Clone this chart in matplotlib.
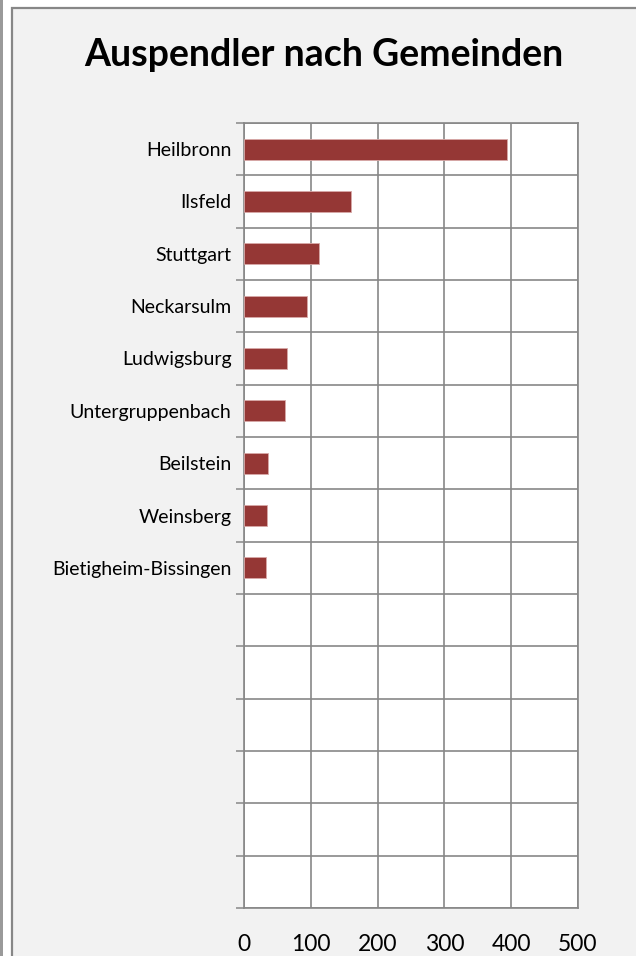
import numpy as np
import matplotlib
matplotlib.use("Agg")
import matplotlib.pyplot as plt
from matplotlib.patches import Rectangle

# data
gemeinden = ["Heilbronn", "Ilsfeld", "Stuttgart", "Neckarsulm", "Ludwigsburg",
             "Untergruppenbach", "Beilstein", "Weinsberg", "Bietigheim-Bissingen"]
auspendler = [393, 160, 113, 94, 65, 62, 36, 35, 33]
x_ticks = [0, 100, 200, 300, 400, 500]
title = "Auspendler nach Gemeinden"
n_slots = 15  # axis has room for 15 categories, only 9 used

plt.rcParams["font.family"] = ["Lato", "DejaVu Sans"]

W, H = 636, 956
fig = plt.figure(figsize=(W / 100, H / 100), dpi=100, facecolor="white")

grey = "#878787"

# outer decorations: left stripe and chart area box (behind the axes)
fig.patches.append(Rectangle((0, 0), 2.5 / W, 1, transform=fig.transFigure,
                             facecolor="#9a9a9a", edgecolor="none", zorder=-10))
fig.patches.append(Rectangle((12 / W, -0.05), 1.0, 1 - 8 / H + 0.05,
                             transform=fig.transFigure, facecolor="#f2f2f2",
                             edgecolor=grey, linewidth=1.6, zorder=-10))

ax = fig.add_axes([244 / W, 1 - 908 / H, (578 - 244) / W, (908 - 123) / H])
ax.set_facecolor("white")

ypos = np.arange(len(gemeinden))
ax.barh(ypos, auspendler, height=0.4, color="#953735", edgecolor="#d8a9a8",
        linewidth=0.6, zorder=3)

ax.set_xlim(x_ticks[0], x_ticks[-1])
ax.set_ylim(n_slots - 0.5, -0.5)

ax.set_xticks(x_ticks)
ax.set_xticklabels([str(v) for v in x_ticks], fontsize=16.5)
ax.tick_params(axis="x", length=0, pad=19)

ax.set_yticks(np.arange(n_slots + 1) - 0.5)
ax.set_yticklabels([])
ax.set_yticks(ypos, minor=True)
ax.set_yticklabels(gemeinden, minor=True, fontsize=14)
ax.tick_params(axis="y", which="major", length=6, width=1.1, color=grey, direction="out")
ax.tick_params(axis="y", which="minor", length=0, pad=9)

ax.grid(True, which="major", color=grey, linewidth=1.2, zorder=0)
ax.set_axisbelow(True)
for s in ax.spines.values():
    s.set_color(grey)
    s.set_linewidth(1.2)

fig.text(324 / W, 1 - 66 / H, title, ha="center", va="baseline",
         fontsize=27, fontweight="bold", color="black")

fig.savefig("out.png", dpi=100, facecolor="white")
